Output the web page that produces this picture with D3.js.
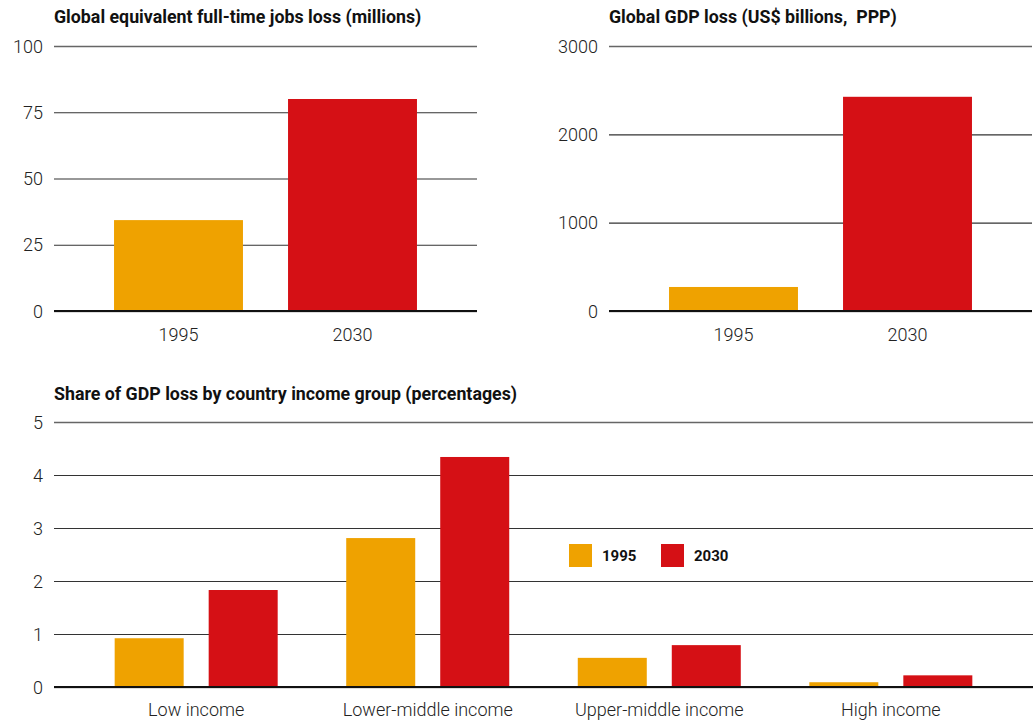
<!DOCTYPE html>
<html>
<head>
<meta charset="utf-8">
<script src="https://cdn.jsdelivr.net/npm/d3@7"></script>
<style>
  body { margin: 0; background: #fff; }
  .title { font-family: Roboto, "Liberation Sans", sans-serif; font-weight: 700; font-size: 17.8px; fill: #111; white-space: pre; }
  .tick text { font-family: Roboto, "Liberation Sans", sans-serif; font-weight: 300; font-size: 18px; fill: #222; }
  .legend text { font-family: Roboto, "Liberation Sans", sans-serif; font-weight: 700; font-size: 15px; fill: #111; }
</style>
</head>
<body>
<div id="viz"></div>
<script>
// data
var years = ["1995", "2030"];
var jobsLoss = [34.3, 80];          // millions
var gdpLoss = [272, 2425];          // US$ billions, PPP
var incomeGroups = ["Low income", "Lower-middle income", "Upper-middle income", "High income"];
var share1995 = [0.92, 2.81, 0.55, 0.09];
var share2030 = [1.83, 4.34, 0.79, 0.22];
var jobsTicks = [0, 25, 50, 75, 100];
var gdpTicks = [0, 1000, 2000, 3000];
var shareTicks = [0, 1, 2, 3, 4, 5];

var colors = d3.scaleOrdinal().domain(years).range(["#efa200", "#d51015"]);

var svg = d3.select("#viz").append("svg")
  .attr("width", 1036)
  .attr("height", 722);

// draws the y grid + labels for a panel
function drawYAxis(g, y, ticks, x0, x1) {
  var ax = g.append("g")
    .attr("transform", "translate(" + x0 + ",0)")
    .call(d3.axisLeft(y).tickValues(ticks).tickSize(-(x1 - x0)).tickPadding(11).tickFormat(d3.format("d")));
  ax.select(".domain").remove();
  ax.selectAll(".tick line")
    .attr("stroke", "#333")
    .attr("stroke-width", 1.2);
  ax.selectAll(".tick text").attr("dy", "0.34em");
  ax.selectAll(".tick").filter(function (d) { return d === ticks[ticks.length - 1]; })
    .select("line").attr("stroke", "#666").attr("stroke-width", 1.5);
  return ax;
}

function drawZero(g, y, x0, x1) {
  g.append("line")
    .attr("x1", x0).attr("x2", x1)
    .attr("y1", y(0) + 1).attr("y2", y(0) + 1)
    .attr("stroke", "#bbb").attr("stroke-width", 1);
  g.append("line")
    .attr("x1", x0).attr("x2", x1)
    .attr("y1", y(0)).attr("y2", y(0))
    .attr("stroke", "#111").attr("stroke-width", 2);
}

function drawXAxis(g, x, yPos, pad) {
  var ax = g.append("g")
    .attr("transform", "translate(0," + yPos + ")")
    .call(d3.axisBottom(x).tickSize(0).tickPadding(pad));
  ax.select(".domain").remove();
}

// simple two bar panel
function simplePanel(title, values, ticks, x0, x1) {
  var g = svg.append("g");
  var y = d3.scaleLinear().domain([0, ticks[ticks.length - 1]]).range([311, 46]);
  var x = d3.scaleBand().domain(years).range([x0, x1]).paddingInner(0.259).paddingOuter(0.345);

  g.append("text").attr("class", "title").attr("x", x0).attr("y", 23).text(title);
  drawYAxis(g, y, ticks, x0, x1);

  g.selectAll("rect.bar")
    .data(years)
    .enter().append("rect")
    .attr("class", "bar")
    .attr("x", function (d) { return x(d); })
    .attr("width", x.bandwidth())
    .attr("y", function (d, i) { return y(values[i]); })
    .attr("height", function (d, i) { return y(0) - y(values[i]); })
    .attr("fill", function (d) { return colors(d); });

  drawZero(g, y, x0, x1);
  drawXAxis(g, x, y(0), 17);
}

simplePanel("Global equivalent full-time jobs loss (millions)", jobsLoss, jobsTicks, 54, 477);
simplePanel("Global GDP loss (US$ billions,  PPP)", gdpLoss, gdpTicks, 609, 1032);

// grouped panel
var gb = svg.append("g");
var yB = d3.scaleLinear().domain([0, 5]).range([687, 422]);
var x0B = d3.scaleBand().domain(incomeGroups).range([54, 1033]).paddingInner(0.296).paddingOuter(0.262);
var x1B = d3.scaleBand().domain(years).range([0, x0B.bandwidth()]).paddingInner(0.266);

gb.append("text").attr("class", "title").attr("x", 54).attr("y", 400)
  .text("Share of GDP loss by country income group (percentages)");
drawYAxis(gb, yB, shareTicks, 54, 1033);

var groups = gb.selectAll("g.group")
  .data(incomeGroups)
  .enter().append("g")
  .attr("class", "group")
  .attr("transform", function (d) { return "translate(" + x0B(d) + ",0)"; });

groups.selectAll("rect")
  .data(function (d, i) { return [{ year: "1995", v: share1995[i] }, { year: "2030", v: share2030[i] }]; })
  .enter().append("rect")
  .attr("x", function (d) { return x1B(d.year); })
  .attr("width", x1B.bandwidth())
  .attr("y", function (d) { return yB(d.v); })
  .attr("height", function (d) { return yB(0) - yB(d.v); })
  .attr("fill", function (d) { return colors(d.year); });

drawZero(gb, yB, 54, 1033);
drawXAxis(gb, x0B, yB(0), 16);

// legend
var legend = gb.append("g").attr("class", "legend").attr("transform", "translate(569,544)");
var li = legend.selectAll("g")
  .data(years)
  .enter().append("g")
  .attr("transform", function (d, i) { return "translate(" + (i * 92) + ",0)"; });
li.append("rect").attr("width", 23).attr("height", 23).attr("fill", function (d) { return colors(d); });
li.append("text").attr("x", 33).attr("y", 17).text(function (d) { return d; });
</script>
</body>
</html>
